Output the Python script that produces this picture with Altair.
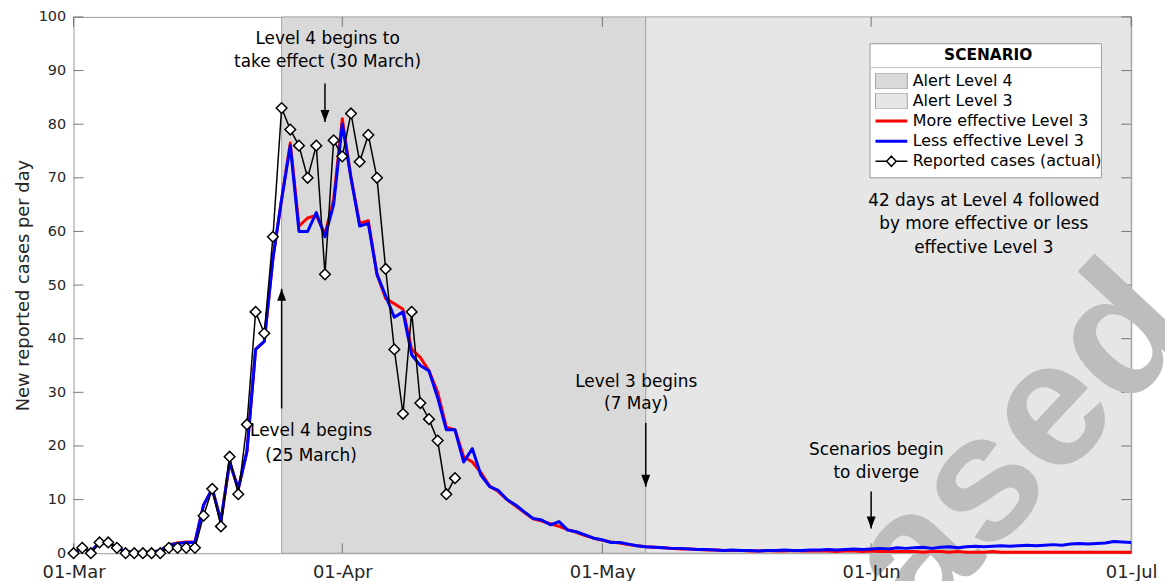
import altair as alt
import pandas as pd

# ---------------- data ----------------
tick_days = [0, 31, 61, 92, 122]
tick_labels = ["01-Mar", "01-Apr", "01-May", "01-Jun", "01-Jul"]
y_ticks = [0, 10, 20, 30, 40, 50, 60, 70, 80, 90, 100]

series_names = ["Alert Level 4", "Alert Level 3", "More effective Level 3",
                "Less effective Level 3", "Reported cases (actual)"]

# reported cases, one value per day from 01-Mar (day 0)
reported = [0, 1, 0, 2, 2, 1, 0, 0, 0, 0,
            0, 1, 1, 1, 1, 7, 12, 5, 18, 11,
            24, 45, 41, 59, 83, 79, 76, 70, 76, 52,
            77, 74, 82, 73, 78, 70, 53, 38, 26, 45,
            28, 25, 21, 11, 14]

# model: more effective Level 3 (red), days 0..122
more_effective = [0, 1, 0.3, 2, 2, 1, 0.3, 0.2, 0.2, 0.2,
                  0.5, 1.6, 1.9, 2.1, 2.1, 9, 12, 6, 17, 12,
                  19, 38, 39.5, 55, 66, 76.5, 61, 62.5, 63, 59.5,
                  66, 81, 70, 61.5, 62, 52, 47.5, 46.5, 45.5, 38,
                  36.5, 34, 30, 23.5, 23, 18, 17, 15, 12.5, 11.5,
                  10, 8.8, 7.6, 6.4, 6.0, 5.5, 5.0, 4.4, 3.9, 3.3,
                  2.8, 2.4, 2.1, 1.9, 1.6, 1.4,
                  1.2, 1.1, 1.0, 0.9, 0.8, 0.8, 0.7, 0.6, 0.6, 0.5,
                  0.5, 0.5, 0.4, 0.4, 0.5, 0.4, 0.4, 0.5, 0.4, 0.4,
                  0.4, 0.4, 0.3, 0.4, 0.4, 0.3, 0.4, 0.3, 0.3, 0.3,
                  0.3, 0.3, 0.2, 0.3, 0.3, 0.2, 0.3, 0.2, 0.2, 0.2,
                  0.3, 0.2, 0.2, 0.2, 0.2, 0.2, 0.2, 0.2, 0.2, 0.2,
                  0.2, 0.2, 0.2, 0.2, 0.2, 0.2, 0.2]

# model: less effective Level 3 (blue), days 0..122
less_effective = [0, 1, 0.3, 2, 2, 1, 0.3, 0.2, 0.2, 0.2,
                  0.5, 1.5, 1.8, 2, 2, 9, 12, 6, 17, 12,
                  19, 38, 39.5, 55, 66, 76, 60, 60, 63.5, 59,
                  65, 80, 70, 61, 61.5, 52, 48, 44, 45, 37,
                  35, 34, 29, 23, 23, 17, 19.5, 14.5, 12.4, 11.7,
                  10, 9, 7.7, 6.5, 6.2, 5.3, 5.9, 4.3, 4, 3.4,
                  2.8, 2.5, 2, 2, 1.7, 1.4,
                  1.2, 1.1, 1.0, 0.9, 0.9, 0.8, 0.7, 0.7, 0.6, 0.5,
                  0.6, 0.5, 0.5, 0.4, 0.5, 0.5, 0.6, 0.5, 0.5, 0.6,
                  0.6, 0.7, 0.6, 0.7, 0.8, 0.7, 0.8, 0.9, 0.8, 1.0,
                  0.9, 1.0, 1.1, 0.9, 1.1, 1.2, 1.0, 1.2, 1.3, 1.2,
                  1.3, 1.4, 1.3, 1.4, 1.5, 1.4, 1.5, 1.6, 1.5, 1.7,
                  1.8, 1.7, 1.8, 1.9, 2.2, 2.1, 2.0]

phase_names = ["Alert Level 4", "Alert Level 3"]
phase_start = [24, 66]
phase_end = [66, 122]

arrow_day = [29, 24, 66, 92]
arrow_tail = [87.6, 27.0, 24.3, 11.5]
arrow_tip = [80.4, 49.3, 12.4, 4.6]

note_text = ["Level 4 begins to", "take effect (30 March)",
             "Level 4 begins", "(25 March)",
             "Level 3 begins", "(7 May)",
             "Scenarios begin", "to diverge",
             "42 days at Level 4 followed", "by more effective or less",
             "effective Level 3"]
note_day = [29.3, 29.3, 27.4, 27.4, 64.9, 64.9, 92.6, 92.6, 105.0, 105.0, 105.0]
note_value = [95.9, 91.6, 22.8, 18.1, 32.0, 27.8, 19.3, 15.0, 65.6, 61.3, 56.9]

legend_title = "SCENARIO"
watermark = "ased"

# ---------------- styling ----------------
W, H = 1065, 540
FONT = "DejaVu Sans"
PATCH = "M-1,-0.5H1V0.5H-1Z"
LINE = "M-1,0H1"
DIAMOND_LINE = "M-1,0H-0.3M0.3,0H1M0,-0.32L0.3,0L0,0.32L-0.3,0Z"
ARROW_DOWN = "M0,0L-0.28,-0.75L0.28,-0.75Z"
ARROW_UP = "M0,0L-0.28,0.75L0.28,0.75Z"
LEG_X, LEG_Y, LEG_W, LEG_H, LEG_DIV = 802, 27, 233, 135, 24

xs = alt.Scale(domain=[0, 122], nice=False, zero=False)
ys = alt.Scale(domain=[0, 100], nice=False, zero=False)

fill_scale = alt.Scale(domain=series_names,
                       range=["#d9d9d9", "#e6e6e6", "transparent", "transparent", "#ffffff"])
stroke_scale = alt.Scale(domain=series_names,
                         range=["#a3a3a3", "#a3a3a3", "#ff0000", "#0000ff", "#000000"])
width_scale = alt.Scale(type="ordinal", domain=series_names, range=[1, 1, 3, 3, 1.5])
shape_scale = alt.Scale(domain=series_names, range=[PATCH, PATCH, LINE, LINE, DIAMOND_LINE])

leg = alt.Legend(title=legend_title, orient="none", legendX=LEG_X, legendY=LEG_Y,
                 titleFont=FONT, titleFontSize=15.5, titleFontWeight="bold", titleColor="black",
                 titleAnchor="middle", titlePadding=10, titleLimit=300,
                 labelFont=FONT, labelFontSize=16, labelColor="black", labelOffset=4,
                 labelLimit=400,
                 symbolSize=1024, clipHeight=16, rowPadding=4.2, padding=4,
                 symbolFillColor="white", symbolStrokeColor="black", symbolOpacity=1)

label_expr = " : ".join(f"datum.value == {d} ? '{l}'" for d, l in zip(tick_days, tick_labels)) + " : ''"

x_axis = alt.Axis(values=tick_days, labelExpr=label_expr, title=None, ticks=False, domain=False,
                  grid=False, labelFont=FONT, labelFontSize=18, labelColor="#262626",
                  labelPadding=10, labelOverlap=False, labelBound=False, labelFlush=False,
                  zindex=2)
y_axis = alt.Axis(values=y_ticks, title="New reported cases per day", titleFont=FONT,
                  titleFontSize=18, titleFontWeight="normal", titleColor="#262626", titlePadding=6,
                  labelFont=FONT, labelFontSize=14.5, labelColor="#262626", labelPadding=8,
                  ticks=False, domain=False, grid=False)


def X(field):
    return alt.X(field, scale=xs, axis=x_axis)


def Y(field):
    return alt.Y(field, scale=ys, axis=y_axis)


def FILL():
    return alt.Fill("series:N", scale=fill_scale, legend=leg)


def STROKE():
    return alt.Stroke("series:N", scale=stroke_scale, legend=leg)


def SW():
    return alt.StrokeWidth("series:N", scale=width_scale, legend=leg)


# ---------------- frames ----------------
phase_df = pd.DataFrame({"series": phase_names, "start": phase_start, "end": phase_end})
cases_df = pd.DataFrame({"day": list(range(len(reported))), "value": reported,
                         "series": "Reported cases (actual)"})
red_df = pd.DataFrame({"day": list(range(len(more_effective))), "value": more_effective,
                       "series": "More effective Level 3"})
blue_df = pd.DataFrame({"day": list(range(len(less_effective))), "value": less_effective,
                        "series": "Less effective Level 3"})
arrow_df = pd.DataFrame({"day": arrow_day, "tail": arrow_tail, "tip": arrow_tip})
note_df = pd.DataFrame({"day": note_day, "value": note_value, "text": note_text})
ytick_df = pd.DataFrame({"v": y_ticks})
xtick_df = pd.DataFrame({"d": tick_days})
legend_df = pd.DataFrame({"series": series_names})
one_df = pd.DataFrame({"t": [watermark]})

# ---------------- layers ----------------
rects = alt.Chart(phase_df).mark_rect().encode(
    x=X("start:Q"), x2="end:Q",
    y=alt.value(0), y2=alt.value(H),
    fill=FILL(), stroke=STROKE(), strokeWidth=SW(),
)
TICK = dict(color="#5a5a5a", strokeWidth=0.8)
ytick_left = alt.Chart(ytick_df).mark_rule(**TICK).encode(
    y=Y("v:Q"), x=alt.value(0), x2=alt.value(10))
ytick_right = alt.Chart(ytick_df).mark_rule(**TICK).encode(
    y=Y("v:Q"), x=alt.value(W - 10), x2=alt.value(W))
xtick_bottom = alt.Chart(xtick_df).mark_rule(**TICK).encode(
    x=X("d:Q"), y=alt.value(H), y2=alt.value(H - 10))
xtick_top = alt.Chart(xtick_df).mark_rule(**TICK).encode(
    x=X("d:Q"), y=alt.value(0), y2=alt.value(10))

wm = alt.Chart(one_df).mark_text(
    font="Liberation Sans", fontWeight="bold", fontSize=180, color="#bdbdbd",
    angle=313, align="center", baseline="alphabetic").encode(
    x=alt.value(992), y=alt.value(468), text="t:N")


def model_line(df):
    return alt.Chart(df).mark_line(strokeJoin="round").encode(
        x=X("day:Q"), y=Y("value:Q"), stroke=STROKE(), strokeWidth=SW())


red_line = model_line(red_df)
blue_line = model_line(blue_df)
black_line = model_line(cases_df)
diamonds = alt.Chart(cases_df).mark_point(shape="diamond", size=115, opacity=1, filled=True).encode(
    x=X("day:Q"), y=Y("value:Q"), fill=FILL(), stroke=STROKE(), strokeWidth=SW())

shafts = alt.Chart(arrow_df).mark_rule(color="black", strokeWidth=1.5).encode(
    x=X("day:Q"), y=Y("tail:Q"), y2="tip:Q")
heads_down = alt.Chart(arrow_df).transform_filter("datum.tip < datum.tail").mark_point(
    shape=ARROW_DOWN, size=1024, filled=True, color="black", opacity=1).encode(
    x=X("day:Q"), y=Y("tip:Q"))
heads_up = alt.Chart(arrow_df).transform_filter("datum.tip > datum.tail").mark_point(
    shape=ARROW_UP, size=1024, filled=True, color="black", opacity=1).encode(
    x=X("day:Q"), y=Y("tip:Q"))

notes = alt.Chart(note_df).mark_text(font=FONT, fontSize=17, color="black",
                                     align="center", baseline="middle").encode(
    x=X("day:Q"), y=Y("value:Q"), text="text:N")

# legend box (white panel with a rule under the title)
legend_box = alt.Chart(one_df).mark_rect(fill="white", stroke="#999999", strokeWidth=1).encode(
    x=alt.value(LEG_X), x2=alt.value(LEG_X + LEG_W),
    y=alt.value(LEG_Y), y2=alt.value(LEG_Y + LEG_H))
legend_div = alt.Chart(one_df).mark_rule(color="#bfbfbf", strokeWidth=1).encode(
    x=alt.value(LEG_X), x2=alt.value(LEG_X + LEG_W), y=alt.value(LEG_Y + LEG_DIV))

legend_layer = alt.Chart(legend_df).transform_filter("false").mark_point(
    filled=True, opacity=1).encode(
    fill=FILL(), stroke=STROKE(), strokeWidth=SW(),
    shape=alt.Shape("series:N", scale=shape_scale, legend=leg),
)

chart = alt.layer(
    rects, ytick_left, ytick_right, xtick_bottom, xtick_top, wm,
    red_line, blue_line, black_line, diamonds, shafts, heads_down, heads_up, notes,
    legend_box, legend_div, legend_layer
).properties(
    width=W, height=H,
    padding={"left": 66, "top": 7, "right": 34, "bottom": 26},
    autosize=alt.AutoSizeParams(type="none"),
).configure_view(stroke="#999999", strokeWidth=1)

chart.save("out.html", embed_options={"renderer": "svg", "actions": False})
